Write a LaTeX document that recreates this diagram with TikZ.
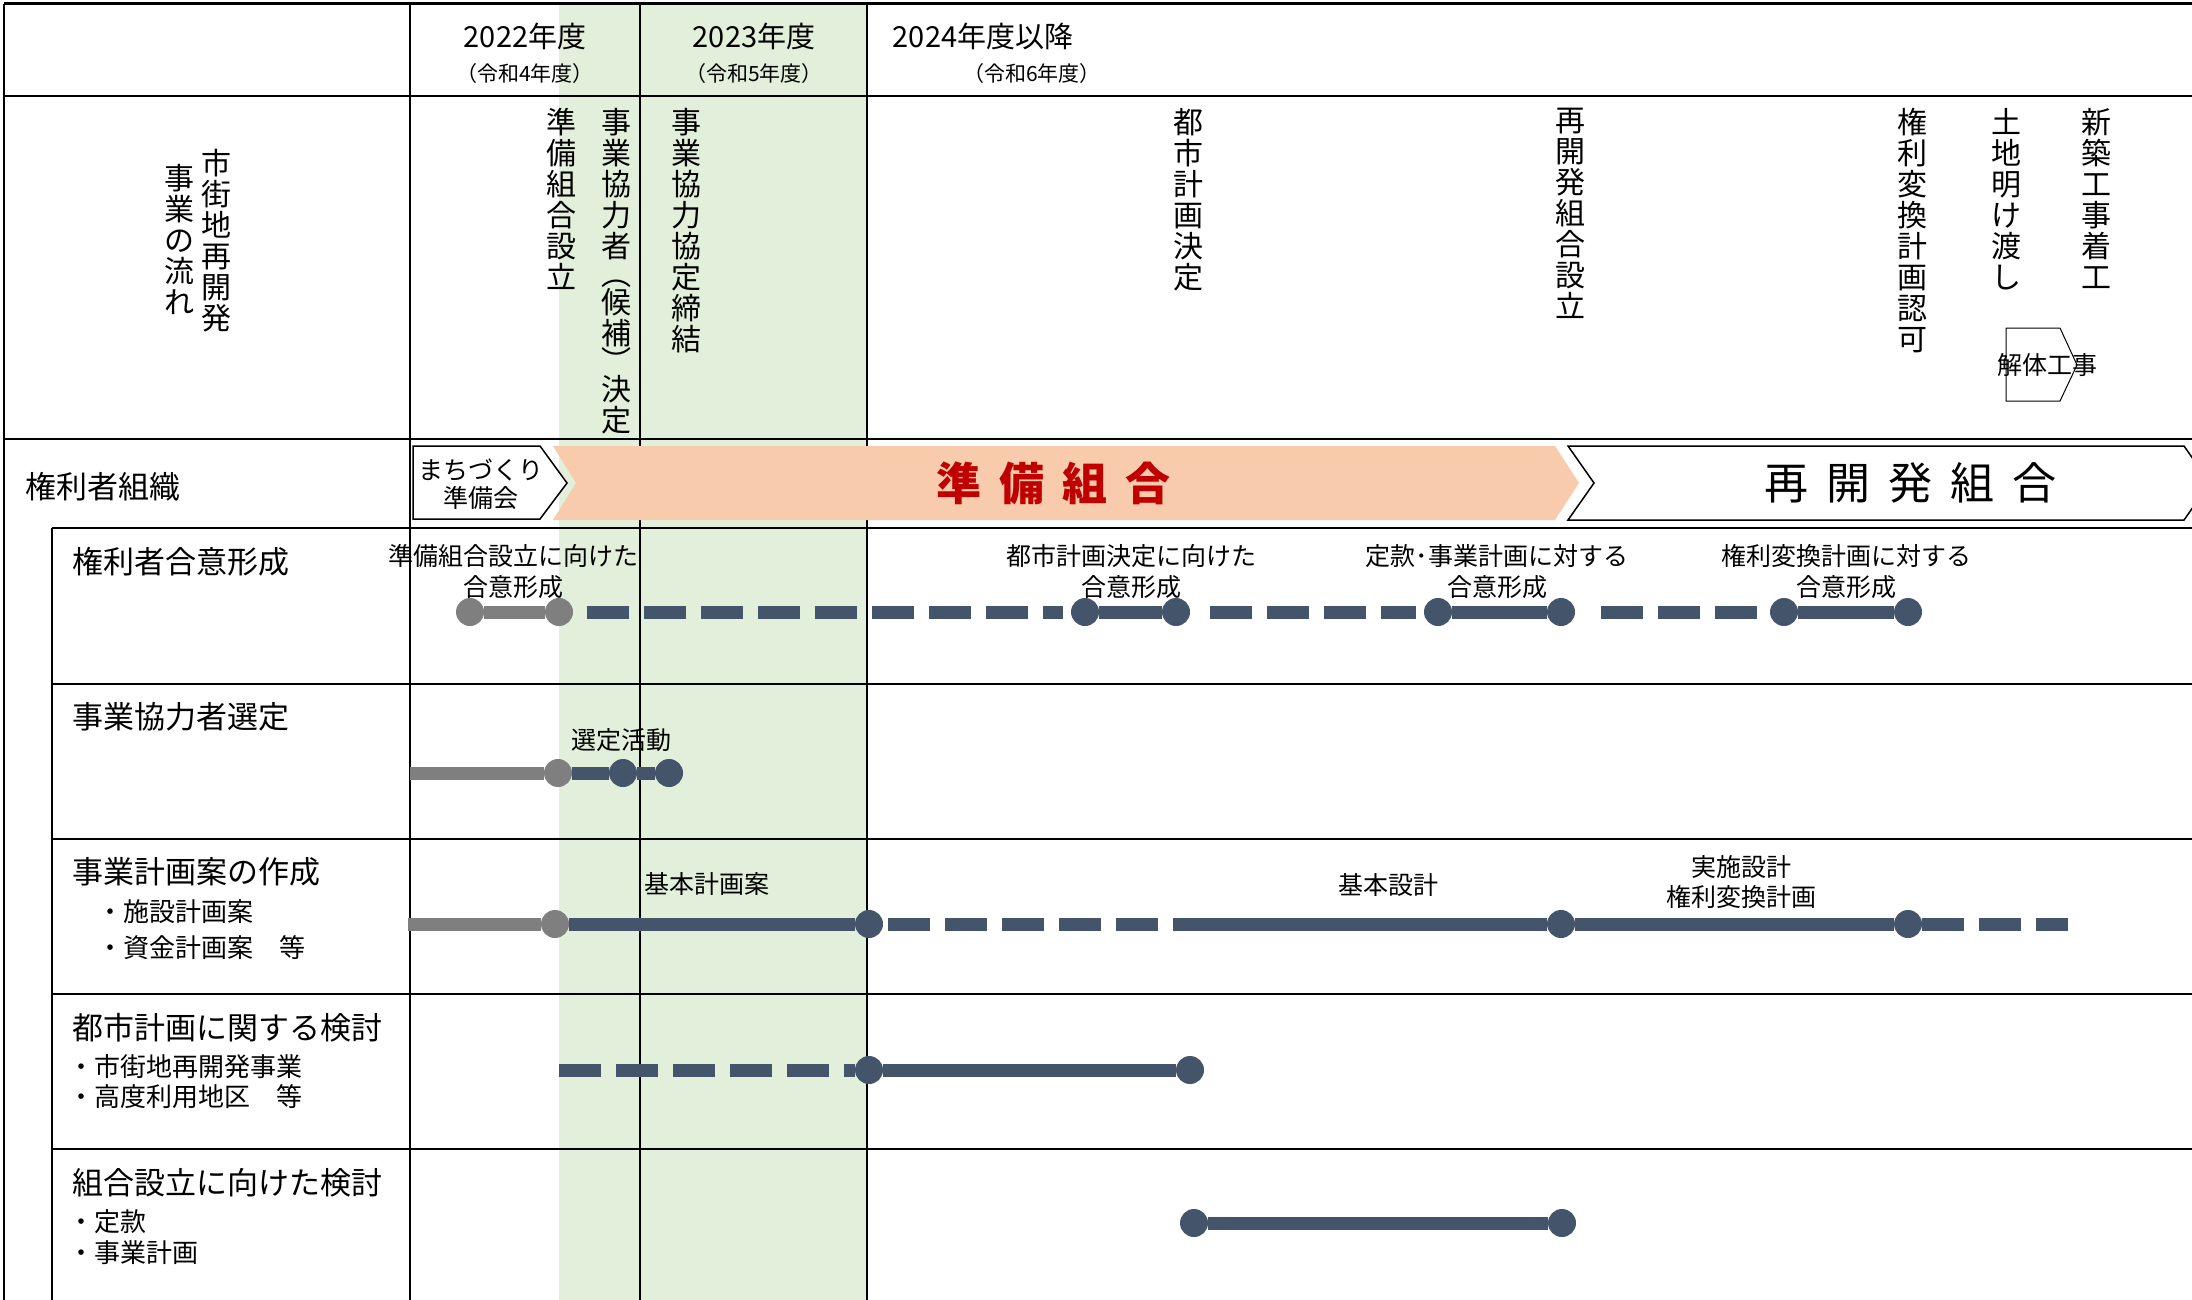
\documentclass[tikz,border=0pt]{standalone}
\usepackage{fontspec}
\setmainfont{Noto Sans CJK JP}
\usepackage{xcolor}
\definecolor{slate}{HTML}{44546A}
\definecolor{ash}{HTML}{7F7F7F}
\definecolor{peach}{HTML}{F8CBAD}
\definecolor{pale}{HTML}{E2EFDA}
\definecolor{deep}{HTML}{C00000}
\newcommand{\fsz}[2]{\fontsize{#1}{#2}\selectfont}
\newcommand{\gap}{\hspace{18pt}}

\begin{document}
\begin{tikzpicture}[x=1pt,y=-1pt,
    rule/.style={line width=2pt},
    vline/.style={line width=1.5pt},
    dot/.style={circle,fill=slate,inner sep=0pt,minimum size=28pt},
    gdot/.style={dot,fill=ash},
    bar/.style={line width=13pt,color=slate},
    gbar/.style={bar,color=ash},
    dbar/.style={bar,dash pattern=on 42pt off 15pt},
    tate/.style={align=center,inner sep=0pt,font=\fsz{30}{31}},
    lbl/.style={align=center,inner sep=0pt,font=\fsz{25}{31}},
    rowlbl/.style={anchor=west,inner sep=0pt,font=\fsz{31}{31}},
    sublbl/.style={anchor=west,inner sep=0pt,font=\fsz{26}{26}}]

  \useasboundingbox (0,0) rectangle (2192,1300);
  \clip (0,0) rectangle (2192,1300);
  \fill[white] (0,0) rectangle (2192,1300);
  \fill[pale] (559,4) rectangle (867,1300);

  % table
  \draw[line width=3pt] (4,4) -- (2192,4);
  \draw[rule] (4,4) -- (4,1300);
  \draw[rule] (4,96) -- (2192,96);
  \draw[rule] (4,439) -- (2192,439);
  \draw[rule] (52,528) -- (2192,528);
  \draw[rule] (52,528) -- (52,1300);
  \foreach \y in {684,839,994,1149}
    \draw[rule] (52,\y) -- (2192,\y);
  \foreach \x in {410,640,867}
    \draw[vline] (\x,4) -- (\x,1300);

  % years
  \node[font=\fsz{29}{29}](y1) at (525,36) {2022年度};
  \node[font=\fsz{21}{21}](w1) at (525,74) {（令和4年度）};
  \node[font=\fsz{29}{29}](y2) at (754,36) {2023年度};
  \node[font=\fsz{21}{21}](w2) at (754,74) {（令和5年度）};
  \node[font=\fsz{29}{29}](y3) at (983,36) {2024年度以降};
  \node[font=\fsz{21}{21}](w3) at (1032,74) {（令和6年度）};

  % steps
  \node[tate](h1) at (216,241) {市\\街\\地\\再\\開\\発};
  \node[tate](h2) at (179,239) {事\\業\\の\\流\\れ};
  \node[tate,anchor=north](v1) at (561,108) {準\\備\\組\\合\\設\\立};
  \node[tate,anchor=north](v2) at (616,108) {事\\業\\協\\力\\者\\[-3pt]︵\\[-3pt]候\\補\\[-3pt]︶\\[-3pt]決\\定};
  \node[tate,anchor=north](v3) at (686,108) {事\\業\\協\\力\\協\\定\\締\\結};
  \node[tate,anchor=north](v4) at (1188,108) {都\\市\\計\\画\\決\\定};
  \node[tate,anchor=north](v5) at (1570,108) {再\\開\\発\\組\\合\\設\\立};
  \node[tate,anchor=north](v6) at (1912,108) {権\\利\\変\\換\\計\\画\\認\\可};
  \node[tate,anchor=north](v7) at (2006,108) {土\\地\\明\\け\\渡\\し};
  \node[tate,anchor=north](v8) at (2096,108) {新\\築\\工\\事\\着\\工};

  \draw[line width=1pt] (2006,328) -- (2060,328) -- (2077,365) -- (2060,401) -- (2006,401) -- cycle;
  \node[font=\fsz{25}{25},inner sep=0pt](kt) at (2047,365) {解体工事};

  % organisation
  \node[rowlbl](r0) at (25,487) {権利者組織};
  \draw[line width=1.5pt,fill=white] (413,446) -- (540,446) -- (567,483) -- (540,519) -- (413,519) -- cycle;
  \node[align=center,inner sep=0pt,font=\fsz{25}{28}](mc) at (481,484) {まちづくり\\準備会};
  \fill[peach] (553,446) -- (1555,446) -- (1579,483) -- (1555,520) -- (553,520) -- (576,483) -- cycle;
  \node[font=\bfseries\fsz{45}{45},text=deep](jk) at (1053,483) {準\gap 備\gap 組\gap 合};
  \draw[line width=1.5pt,fill=white] (1568,446) -- (2184,446) -- (2210,483) -- (2184,520) -- (1568,520) -- (1594,483) -- cycle;
  \node[font=\fsz{44}{44}](sk) at (1910,483) {再\gap 開\gap 発\gap 組\gap 合};

  % rows
  \node[rowlbl](r1) at (72,562) {権利者合意形成};
  \node[rowlbl](r2) at (72,717) {事業協力者選定};
  \node[rowlbl](r3) at (72,872) {事業計画案の作成};
  \node[sublbl](r3a) at (97,912) {・施設計画案};
  \node[sublbl](r3b) at (97,948) {・資金計画案　等};
  \node[rowlbl](r4) at (72,1028) {都市計画に関する検討};
  \node[sublbl](r4a) at (68,1067) {・市街地再開発事業};
  \node[sublbl](r4b) at (68,1097) {・高度利用地区　等};
  \node[rowlbl](r5) at (72,1183) {組合設立に向けた検討};
  \node[sublbl](r5a) at (68,1222) {・定款};
  \node[sublbl](r5b) at (68,1253) {・事業計画};

  % consensus
  \node[gdot](k1) at (470,612) {};
  \node[gdot](k2) at (559,612) {};
  \node[dot](k3) at (1085,612) {};
  \node[dot](k4) at (1176,612) {};
  \node[dot](k5) at (1438,612) {};
  \node[dot](k6) at (1561,612) {};
  \node[dot](k7) at (1784,612) {};
  \node[dot](k8) at (1908,612) {};
  \draw[gbar] (k1) -- (k2);
  \draw[dbar,shorten <=14pt,shorten >=8pt] (k2) -- (k3);
  \draw[bar] (k3) -- (k4);
  \draw[dbar,shorten <=20pt,shorten >=8pt] (k4) -- (k5);
  \draw[bar] (k5) -- (k6);
  \draw[dbar,shorten <=26pt,shorten >=10pt] (k6) -- (k7);
  \draw[bar] (k7) -- (k8);
  \node[lbl](a0) at (513,572) {準備組合設立に向けた\\合意形成};
  \node[lbl](a1) at (1131,572) {都市計画決定に向けた\\合意形成};
  \node[lbl](a2) at (1497,572) {定款･事業計画に対する\\合意形成};
  \node[lbl](a3) at (1846,572) {権利変換計画に対する\\合意形成};

  % partner
  \coordinate(s0) at (410,773);
  \node[gdot](s1) at (558,773) {};
  \node[dot](s2) at (623,773) {};
  \node[dot](s3) at (669,773) {};
  \draw[gbar] (s0) -- (s1);
  \draw[bar] (s1) -- (s2) -- (s3);
  \node[lbl](b0) at (621,740) {選定活動};

  % plan
  \coordinate(p0) at (408,924);
  \node[gdot](p1) at (555,924) {};
  \node[dot](p2) at (869,924) {};
  \coordinate(p6) at (1176,924);
  \node[dot](p3) at (1561,924) {};
  \node[dot](p4) at (1908,924) {};
  \coordinate(p5) at (2068,924);
  \draw[gbar] (p0) -- (p1);
  \draw[bar] (p1) -- (p2);
  \draw[dbar,shorten <=5pt] (p2) -- (p3);
  \draw[bar] (p6) -- (p3);
  \draw[bar] (p3) -- (p4);
  \draw[dbar] (p4) -- (p5);
  \node[lbl](c0) at (707,884) {基本計画案};
  \node[lbl](c1) at (1388,885) {基本設計};
  \node[lbl,font=\fsz{25}{30}](c2) at (1741,882) {実施設計\\権利変換計画};

  % city planning
  \coordinate(t0) at (559,1070);
  \node[dot](t1) at (869,1070) {};
  \node[dot](t2) at (1190,1070) {};
  \draw[dbar] (t0) -- (t1);
  \draw[bar] (t1) -- (t2);

  % union
  \node[dot](u1) at (1194,1223) {};
  \node[dot](u2) at (1562,1223) {};
  \draw[bar] (u1) -- (u2);

\end{tikzpicture}
\end{document}
